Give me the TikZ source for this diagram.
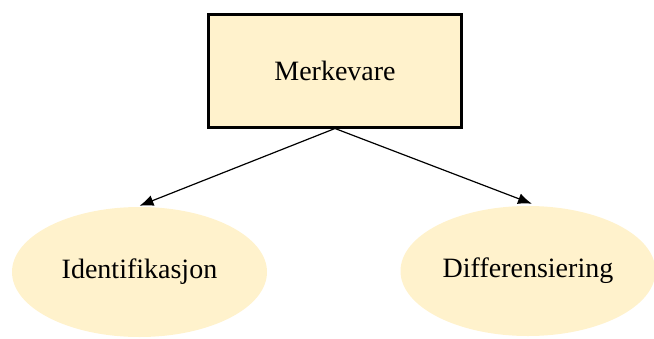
\documentclass[tikz,border=0pt]{standalone}
\usepackage{fontspec}
\setmainfont{Liberation Serif}
\usetikzlibrary{shapes.geometric,arrows.meta}
\definecolor{lightgold}{RGB}{255,242,204}

\begin{document}
\begin{tikzpicture}[x=1pt, y=-1pt,
		box/.style={draw, line width=3pt, fill=lightgold, minimum width=253pt, minimum height=113pt, inner sep=0pt, font=\fontsize{28}{31}\selectfont},
		oval/.style={ellipse, fill=lightgold, minimum width=255pt, minimum height=130pt, inner sep=0pt, font=\fontsize{28}{31}\selectfont},
		link/.style={line width=1.2pt, -{Latex[length=14pt, width=11pt]}}]
		\useasboundingbox (0,0) rectangle (654,338);
		\node [box] (merke) at (335,70.5) {Merkevare};
		\node [oval] (ident) at (139.5,272) {Identifikasjon};
		\node [oval] (diff) at (528,271) {Differensiering};
		\draw [link] (merke.south) -- ([yshift=1pt]ident.north);
		\draw [link] (merke.south) -- ([xshift=4pt, yshift=2pt]diff.north);
	\end{tikzpicture}
\end{document}
